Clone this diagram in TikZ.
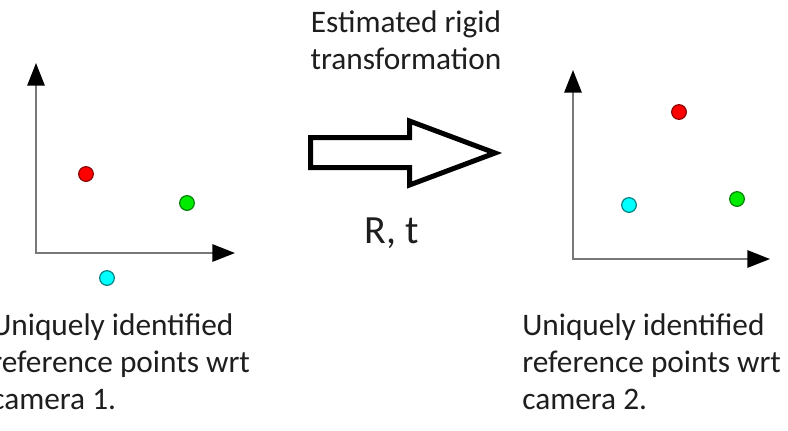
\documentclass[tikz,border=0pt]{standalone}
\usepackage{fontspec}
\setmainfont{Carlito}
\usepackage{xcolor}
\usetikzlibrary{arrows.meta, positioning}
\definecolor{axisgray}{RGB}{120, 120, 120}
\definecolor{txtdark}{RGB}{30, 30, 30}
\definecolor{ptred}{RGB}{255, 0, 0}
\definecolor{ptgreen}{RGB}{0, 235, 0}
\definecolor{ptcyan}{RGB}{0, 255, 255}

\tikzset{
    axis/.style={draw=axisgray, line width=1.5pt,
        {Triangle[length=17pt, width=13pt, color=black]}-{Triangle[length=17pt, width=13pt, color=black]}},
    dot/.style={circle, inner sep=0pt, minimum size=11pt, line width=0.9pt},
    caption/.style={align=left, inner sep=0pt, text=txtdark, font=\fontsize{23.5}{27.75}\selectfont},
}

\begin{document}
\begin{tikzpicture}[x=0.75pt, y=-0.75pt]
    \clip (0,0) rectangle (788,430);
    \fill[white] (0,0) rectangle (788,430);

    % camera 1 frame
    \coordinate (o1) at (36,253);
    \coordinate (y1) at (36,63);
    \coordinate (x1) at (235,253);
    \draw[axis] (y1) -- (o1) -- (x1);
    \node[dot, fill=ptred, draw=ptred!55!black] (red1) at (86,174) {};
    \node[dot, fill=ptgreen, draw=ptgreen!55!black] (green1) at (187,203) {};
    \node[dot, fill=ptcyan, draw=ptcyan!50!black] (cyan1) at (107,278) {};

    % camera 2 frame
    \coordinate (o2) at (573,259);
    \coordinate (y2) at (573,70);
    \coordinate (x2) at (770,259);
    \draw[axis] (y2) -- (o2) -- (x2);
    \node[dot, fill=ptred, draw=ptred!55!black] (red2) at (679,112) {};
    \node[dot, fill=ptcyan, draw=ptcyan!50!black] (cyan2) at (629,205) {};
    \node[dot, fill=ptgreen, draw=ptgreen!55!black] (green2) at (737,199) {};

    % block arrow for R, t
    \draw[line width=3.75pt, miter limit=10]
        (310.5,137.5) -- (409.5,137.5) -- (409.5,121) -- (495,153)
        -- (409.5,185) -- (409.5,167.5) -- (310.5,167.5) -- cycle;

    % base anchor of a multi-line node sits on its last line
    \node[caption, align=center, anchor=base] (title) at (406,69)
        {Estimated rigid\\transformation};
    \node[caption, anchor=base, font=\fontsize{30}{34}\selectfont] (rt) at (392,243) {R, t};

    \node[caption, anchor=base west] (cap1) at (-9,409)
        {Uniquely identified\\reference points wrt\\camera 1.};
    \node[caption, anchor=base west] (cap2) at (522,409)
        {Uniquely identified\\reference points wrt\\camera 2.};
\end{tikzpicture}
\end{document}
